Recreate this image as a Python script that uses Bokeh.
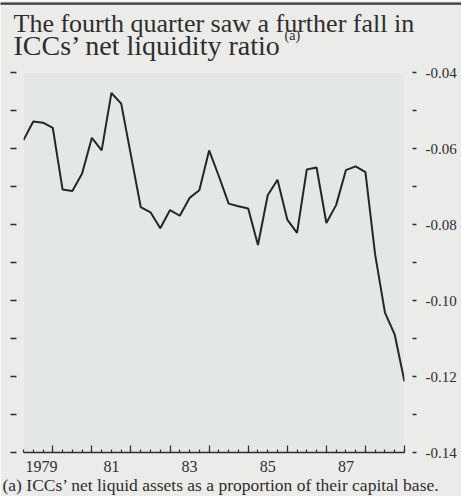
import numpy as np
from bokeh.plotting import figure
from bokeh.models import (Range1d, LinearAxis, FixedTicker, Title, CustomLabelingPolicy)
from bokeh.embed import file_html
from bokeh.resources import INLINE

# ---- data ----
years = list(range(1979, 1989))
quarters = [(y, q) for y in years for q in range(1, 5)]
net_liquidity = [
    -0.0578, -0.0529, -0.0532, -0.0546, -0.0708, -0.0712, -0.0666, -0.0572,
    -0.0605, -0.0454, -0.0482, -0.0618, -0.0754, -0.0768, -0.0810, -0.0762,
    -0.0777, -0.0730, -0.0710, -0.0605, -0.0673, -0.0745, -0.0752, -0.0758,
    -0.0854, -0.0723, -0.0682, -0.0787, -0.0822, -0.0655, -0.0650, -0.0796,
    -0.0749, -0.0657, -0.0647, -0.0662, -0.0880, -0.1032, -0.1090, -0.1213,
]
y_ticks = [-0.14, -0.13, -0.12, -0.11, -0.10, -0.09, -0.08, -0.07, -0.06, -0.05, -0.04]
y_major = [-0.14, -0.12, -0.10, -0.08, -0.06, -0.04]
y_minor = [-0.13, -0.11, -0.09, -0.07, -0.05]
y_labels = ["-0.14", "-0.12", "-0.10", "-0.08", "-0.06", "-0.04"]
x_label_pos = [1979.71, 1981.5, 1983.5, 1985.5, 1987.5]
x_labels = ["1979", "81", "83", "85", "87"]
title_lines = ["The fourth quarter saw a further fall in",
               "ICCs\u2019 net liquidity ratio"]
title_note = "(a)"
footnote = "(a) ICCs\u2019 net liquid assets as a proportion of their capital base."

# quarter-end positions
x = [y + q / 4 for (y, q) in quarters]

SERIF = "Liberation Serif"
TXT = "#2e2e2e"

p = figure(width=461, height=496, output_backend="svg", toolbar_location=None,
           x_range=Range1d(1979.25, 1989.0), y_range=Range1d(-0.14, -0.04),
           min_border_left=23, min_border_right=57, min_border_top=72,
           min_border_bottom=43, x_axis_type=None, y_axis_type=None)
p.background_fill_color = "#e3e7e8"
p.border_fill_color = "#ebebe9"
p.outline_line_color = None
p.grid.visible = False

# left axis: detached ticks, no labels
la = LinearAxis(ticker=FixedTicker(ticks=[], minor_ticks=y_ticks))
la.axis_line_color = None
la.minor_tick_in = -7
la.minor_tick_out = 13
la.minor_tick_line_width = 1.5
la.minor_tick_line_color = TXT
la.major_label_standoff = 0
p.add_layout(la, "left")

# right axis: detached ticks, labels every 0.02
ra = LinearAxis(ticker=FixedTicker(ticks=y_major, minor_ticks=y_minor))
ra.axis_line_color = None
ra.major_tick_in = -8
ra.major_tick_out = 12
ra.minor_tick_in = -8
ra.minor_tick_out = 12
ra.major_tick_line_width = 1.5
ra.minor_tick_line_width = 1.5
ra.major_tick_line_color = TXT
ra.minor_tick_line_color = TXT
ra.major_label_overrides = {t: l for t, l in zip(y_major, y_labels)}
ra.major_label_text_font = SERIF
ra.major_label_text_font_size = "15px"
ra.major_label_text_color = TXT
ra.major_label_standoff = 9
p.add_layout(ra, "right")

# bottom axis: year and quarter ticks, pointing up, no labels
quarter_ticks = list(np.arange(1979.25, 1989.01, 0.25))
xa = LinearAxis(ticker=FixedTicker(ticks=list(range(1980, 1990)), minor_ticks=quarter_ticks))
xa.axis_line_color = TXT
xa.axis_line_width = 1.5
xa.major_tick_in = 7
xa.major_tick_out = 0
xa.minor_tick_in = 3
xa.minor_tick_out = 0
xa.major_tick_line_color = TXT
xa.minor_tick_line_color = TXT
xa.major_tick_line_width = 1.2
xa.minor_tick_line_width = 1.2
xa.major_label_text_font_size = "1px"
xa.major_label_standoff = 0
xa.major_label_policy = CustomLabelingPolicy(code="return new Set()")
p.add_layout(xa, "below")

# bottom label axis: year labels centred on the years
xl = LinearAxis(ticker=FixedTicker(ticks=x_label_pos, minor_ticks=[]))
xl.axis_line_color = None
xl.major_tick_line_color = None
xl.major_tick_in = 0
xl.major_tick_out = 0
xl.major_label_overrides = {t: l for t, l in zip(x_label_pos, x_labels)}
xl.major_label_text_font = SERIF
xl.major_label_text_font_size = "16px"
xl.major_label_text_color = TXT
xl.major_label_standoff = 4
p.add_layout(xl, "below")

p.line(x, net_liquidity, line_color="#262626", line_width=2)

# title (two lines + note marker) and footnote
p.add_layout(Title(text=title_lines[1], text_font=SERIF, text_font_size="28px",
                   text_font_style="normal", text_color=TXT, align="left",
                   offset=-10, standoff=24), "above")
p.add_layout(Title(text=title_lines[0], text_font=SERIF, text_font_size="26px",
                   text_font_style="normal", text_color=TXT, align="left",
                   offset=-10, standoff=-45), "above")
p.add_layout(Title(text=title_note, text_font=SERIF, text_font_size="14px",
                   text_font_style="normal", text_color=TXT, align="left",
                   offset=261, standoff=-55), "above")
# thin rule across the top of the page (a blank title with a dark box)
p.add_layout(Title(text="\u2003" * 236, text_font=SERIF, text_font_size="2px",
                   text_font_style="normal", align="left", vertical_align="top",
                   background_fill_color="#3a3a3a", offset=-23, standoff=-26), "above")
p.add_layout(Title(text=footnote, text_font=SERIF, text_font_size="17.5px",
                   text_font_style="normal", text_color=TXT, align="left",
                   vertical_align="top", offset=-21, standoff=0), "below")

open("out.html", "w").write(file_html(p, INLINE))
